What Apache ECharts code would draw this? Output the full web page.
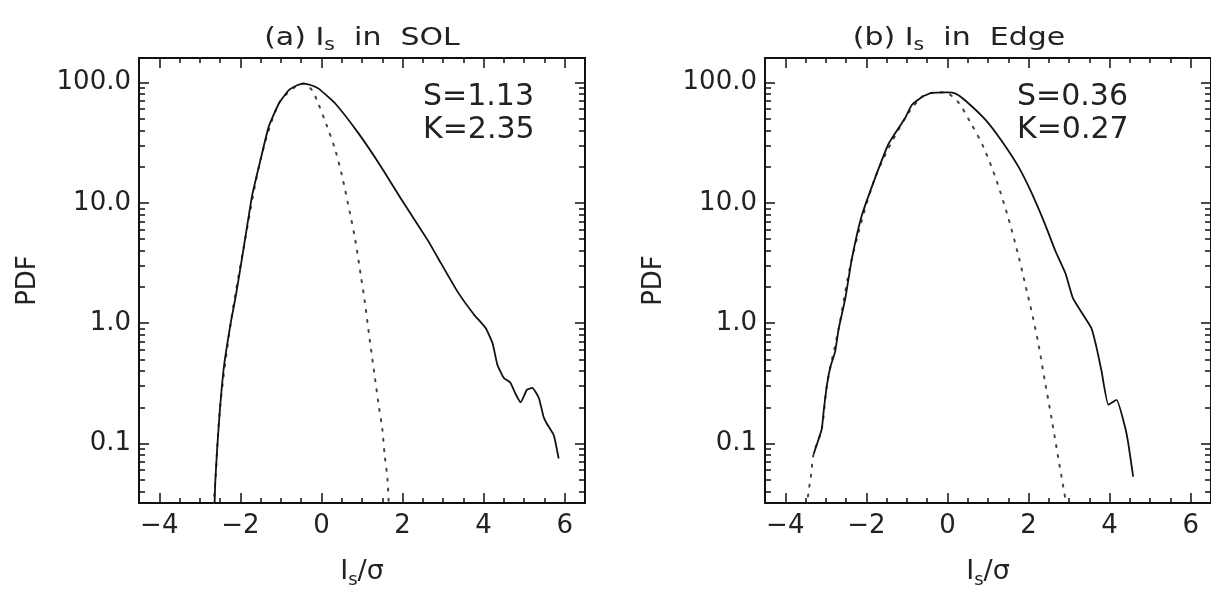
<!DOCTYPE html>
<html>
<head>
<meta charset="utf-8">
<script src="https://cdn.jsdelivr.net/npm/echarts@6/dist/echarts.min.js"></script>
<style>
html, body { margin: 0; padding: 0; background: #fff; }
#chart { width: 1211px; height: 594px; }
</style>
</head>
<body>
<div id="chart"></div>
<script>
// (a) Is in SOL : measured PDF (solid) and gaussian fit (dotted)
var solX   = [-2.64, -2.62, -2.57, -2.50, -2.40, -2.23, -2.11, -1.91, -1.71, -1.50, -1.30, -1.05, -0.81, -0.60, -0.44, -0.25, -0.07, 0.34, 0.91, 1.47, 1.97, 2.62, 2.87, 3.36, 3.77, 4.05, 4.22, 4.34, 4.50, 4.66, 4.79, 4.91, 5.07, 5.20, 5.36, 5.48, 5.56, 5.73, 5.85];
var solPdf = [0.028, 0.047, 0.093, 0.2, 0.45, 1.04, 1.7, 4.4, 11.5, 23, 43, 67, 86, 95, 98, 95, 89, 67, 38, 20, 10.7, 4.9, 3.5, 1.82, 1.17, 0.91, 0.68, 0.45, 0.35, 0.32, 0.257, 0.22, 0.28, 0.29, 0.24, 0.166, 0.146, 0.117, 0.075];
var solGaussX   = [-2.68, -2.62, -2.50, -2.23, -1.91, -1.50, -1.05, -0.60, -0.44, -0.24, -0.11, 0.13, 0.34, 0.50, 0.70, 0.83, 0.97, 1.07, 1.19, 1.32, 1.41, 1.50, 1.56, 1.63, 1.66];
var solGaussPdf = [0.025, 0.047, 0.2, 1.04, 4.4, 23, 67, 95, 98, 87, 71, 44, 27.6, 17.2, 8.3, 5.0, 2.5, 1.5, 0.73, 0.35, 0.21, 0.132, 0.080, 0.050, 0.03];

// (b) Is in Edge
var edgeX   = [-3.30, -3.10, -3.05, -2.97, -2.89, -2.77, -2.68, -2.52, -2.36, -2.12, -1.77, -1.45, -1.04, -0.88, -0.63, -0.39, 0.00, 0.20, 0.44, 0.94, 1.33, 1.75, 2.07, 2.41, 2.66, 2.91, 3.10, 3.55, 3.68, 3.80, 3.97, 4.17, 4.38, 4.46, 4.58];
var edgePdf = [0.082, 0.132, 0.19, 0.31, 0.43, 0.58, 0.91, 1.6, 3.4, 7.7, 16.6, 31, 51, 65, 76, 82, 83, 81, 71, 49, 33, 20, 12.2, 6.6, 4.0, 2.6, 1.6, 0.91, 0.62, 0.40, 0.21, 0.23, 0.137, 0.1, 0.053];
var edgeGaussX   = [-3.47, -3.42, -3.37, -3.30, -3.10, -2.97, -2.68, -2.36, -1.77, -1.04, -0.63, -0.39, -0.10, 0.23, 0.56, 0.89, 1.22, 1.50, 1.75, 1.98, 2.04, 2.24, 2.41, 2.57, 2.73, 2.90];
var edgeGaussPdf = [0.03, 0.041, 0.053, 0.082, 0.132, 0.31, 0.91, 3.4, 16.6, 51, 76, 82, 83, 71, 47, 29, 15, 7.5, 3.65, 1.71, 1.42, 0.68, 0.32, 0.16, 0.077, 0.036];

var xMajor = [-4, -2, 0, 2, 4, 6];
var xMinor = [-3.5, -3, -2.5, -1.5, -1, -0.5, 0.5, 1, 1.5, 2.5, 3, 3.5, 4.5, 5, 5.5];
var yMajor = [0.1, 1, 10, 100];
var yMinor = [0.04, 0.05, 0.06, 0.07, 0.08, 0.09, 0.2, 0.3, 0.4, 0.5, 0.6, 0.7, 0.8, 0.9,
              2, 3, 4, 5, 6, 7, 8, 9, 20, 30, 40, 50, 60, 70, 80, 90];

var panelTitles = ['(a) I{s|s}  in  SOL', '(b) I{s|s}  in  Edge'];
var stats = [['S=1.13', 'K=2.35'], ['S=0.36', 'K=0.27']];

var font = 'DejaVu Sans';
var ink = '#222';
var xMin = -4.5, xMax = 6.5, yMin = 0.032, yMax = 160;

var grids = [
    { left: 139, top: 58, width: 446, height: 449 },
    { left: 765, top: 58, width: 447, height: 449 }
];

function pairs(xs, ys) {
    return xs.map(function (x, i) { return [x, ys[i]]; });
}

function fmtX(v) {
    return v < 0 ? '\u2212' + (-v) : String(v);
}

function xAxes(g) {
    var list = [];
    ['bottom', 'top'].forEach(function (pos) {
        [true, false].forEach(function (major) {
            var ax = {
                gridIndex: g, type: 'value', position: pos, min: xMin, max: xMax,
                splitLine: { show: false },
                axisLine: { show: major, onZero: false, lineStyle: { color: '#111', width: 2 } },
                axisTick: { inside: true, length: major ? 10 : 5, customValues: major ? xMajor : xMinor,
                            lineStyle: { color: '#111', width: 1.5 } },
                axisLabel: { show: false }
            };
            if (major && pos === 'bottom') {
                ax.axisLabel = { show: true, customValues: xMajor, formatter: fmtX, margin: 10,
                                 fontFamily: font, fontSize: 26, color: ink };
                ax.name = 'I{s|s}/\u03c3';
                ax.nameLocation = 'middle';
                ax.nameGap = 52;
                ax.nameTextStyle = { fontFamily: font, fontSize: 27, color: ink,
                    rich: { s: { fontFamily: font, fontSize: 18, color: ink, padding: [16, 0, 0, 0] } } };
            }
            list.push(ax);
        });
    });
    return list;
}

function yAxes(g) {
    var list = [];
    ['left', 'right'].forEach(function (pos) {
        [true, false].forEach(function (major) {
            var ax = {
                gridIndex: g, type: 'log', logBase: 10, position: pos, min: yMin, max: yMax,
                splitLine: { show: false },
                axisLine: { show: major, onZero: false, lineStyle: { color: '#111', width: 2 } },
                axisTick: { inside: true, length: major ? 10 : 6, customValues: major ? yMajor : yMinor,
                            lineStyle: { color: '#111', width: 1.5 } },
                axisLabel: { show: false }
            };
            if (major && pos === 'left') {
                ax.axisLabel = { show: true, customValues: yMajor, margin: 8,
                                 formatter: function (v) { return Number(v).toFixed(1); },
                                 fontFamily: font, fontSize: 26, color: ink };
                ax.name = 'PDF';
                ax.nameLocation = 'middle';
                ax.nameGap = 98;
                ax.nameTextStyle = { fontFamily: font, fontSize: 26, color: ink };
            }
            list.push(ax);
        });
    });
    return list;
}

function curve(g, xs, ys, dotted) {
    return {
        type: 'line', xAxisIndex: g * 4, yAxisIndex: g * 4,
        data: pairs(xs, ys), showSymbol: false, silent: true,
        smooth: dotted ? 0.3 : 0.15, clip: true, z: dotted ? 3 : 4,
        lineStyle: dotted
            ? { color: '#444', width: 2, type: [2, 8], cap: 'round' }
            : { color: '#111', width: 1.8 }
    };
}

var graphics = [];
[362, 959].forEach(function (cx, i) {
    graphics.push({
        type: 'text', x: cx, y: 38, scaleX: 1.2,
        style: {
            text: panelTitles[i], fill: ink, font: '25px "' + font + '"',
            align: 'center', verticalAlign: 'middle',
            rich: { s: { fontFamily: font, fontSize: 17, fill: ink, padding: [16, 0, 0, 0] } }
        }
    });
});
[423, 1017].forEach(function (x0, i) {
    stats[i].forEach(function (t, k) {
        graphics.push({
            type: 'text', x: x0, y: 82 + k * 33,
            style: { text: t, fill: ink, font: '30px "' + font + '"', align: 'left', verticalAlign: 'top' }
        });
    });
});

var chart = echarts.init(document.getElementById('chart'));
chart.setOption({
    animation: false,
    backgroundColor: '#fff',
    grid: grids,
    xAxis: xAxes(0).concat(xAxes(1)),
    yAxis: yAxes(0).concat(yAxes(1)),
    series: [
        curve(0, solGaussX, solGaussPdf, true),
        curve(0, solX, solPdf, false),
        curve(1, edgeGaussX, edgeGaussPdf, true),
        curve(1, edgeX, edgePdf, false)
    ],
    graphic: graphics
});
</script>
</body>
</html>
